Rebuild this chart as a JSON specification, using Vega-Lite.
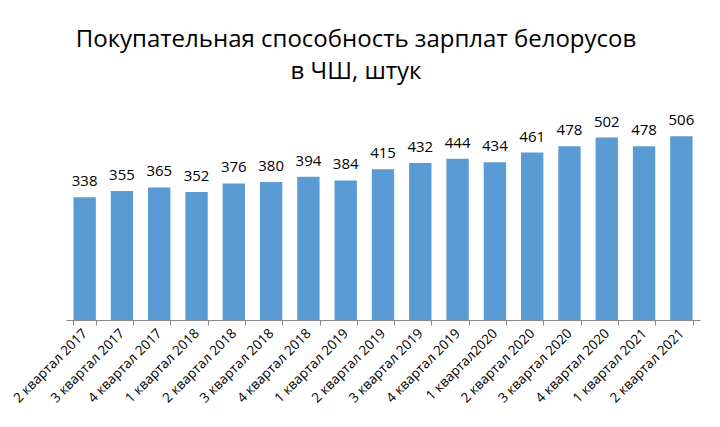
{
  "$schema": "https://vega.github.io/schema/vega-lite/v6.json",
  "autosize": "none",
  "width": 634,
  "height": 218,
  "padding": {"left": 66, "top": 102, "right": 20, "bottom": 107},
  "background": "white",
  "title": {
    "text": ["Покупательная способность зарплат белорусов", "в ЧШ, штук"],
    "font": "Open Sans",
    "fontSize": 24,
    "fontWeight": "normal",
    "color": "#000000",
    "anchor": "middle",
    "frame": "group",
    "lineHeight": 32,
    "offset": 18,
    "dx": -27
  },
  "data": {
    "values": [
      {"q": "2 квартал 2017", "v": 338},
      {"q": "3 квартал 2017", "v": 355},
      {"q": "4 квартал 2017", "v": 365},
      {"q": "1 квартал 2018", "v": 352},
      {"q": "2 квартал 2018", "v": 376},
      {"q": "3 квартал 2018", "v": 380},
      {"q": "4 квартал 2018", "v": 394},
      {"q": "1 квартал 2019", "v": 384},
      {"q": "2 квартал 2019", "v": 415},
      {"q": "3 квартал 2019", "v": 432},
      {"q": "4 квартал 2019", "v": 444},
      {"q": "1 квартал2020", "v": 434},
      {"q": "2 квартал 2020", "v": 461},
      {"q": "3 квартал 2020", "v": 478},
      {"q": "4 квартал 2020", "v": 502},
      {"q": "1 квартал 2021", "v": 478},
      {"q": "2 квартал 2021", "v": 506}
    ]
  },
  "encoding": {
    "x": {
      "field": "q",
      "type": "nominal",
      "sort": null,
      "scale": {"paddingInner": 0.4, "paddingOuter": 0.2},
      "axis": {
        "title": null,
        "labelAngle": -45,
        "labelAlign": "right",
        "labelBaseline": "middle",
        "labelFont": "Open Sans",
        "labelFontSize": 13.5,
        "labelColor": "#000000",
        "labelPadding": 6,
        "domainColor": "#888888",
        "tickColor": "#888888",
        "tickBand": "extent",
        "tickSize": 5
      }
    },
    "y": {
      "field": "v",
      "type": "quantitative",
      "scale": {"domain": [0, 600]},
      "axis": null
    }
  },
  "layer": [
    {"mark": {"type": "bar", "color": "#5B9BD5"}},
    {
      "mark": {"type": "text", "dy": -16, "font": "Open Sans", "fontSize": 15, "color": "#000000"},
      "encoding": {"text": {"field": "v", "type": "quantitative"}}
    }
  ],
  "config": {"view": {"stroke": null}}
}
